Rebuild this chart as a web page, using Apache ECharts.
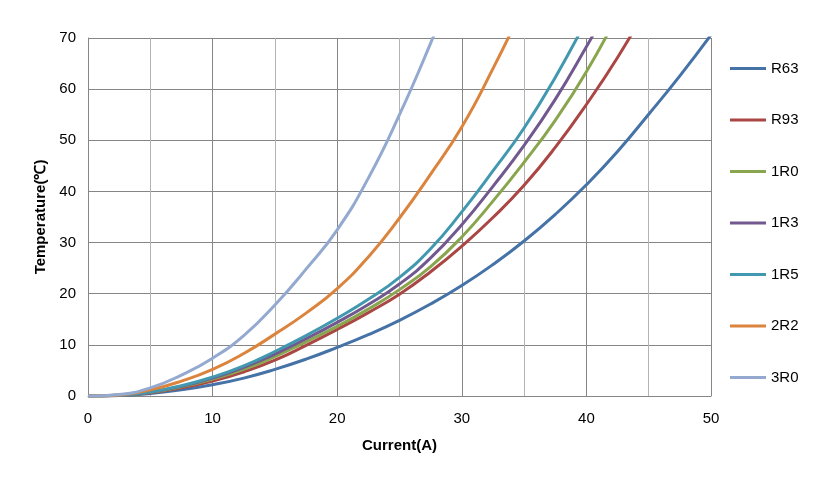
<!DOCTYPE html>
<html>
<head>
<meta charset="utf-8">
<script src="https://cdn.jsdelivr.net/npm/echarts@6/dist/echarts.min.js"></script>
<style>
  html, body { margin: 0; padding: 0; background: #fff; }
  #chart { width: 833px; height: 477px; }
</style>
</head>
<body>
<div id="chart"></div>
<script>
const seriesNames = ['R63', 'R93', '1R0', '1R3', '1R5', '2R2', '3R0'];
const seriesColors = ['#4572A7', '#AA4643', '#89A54E', '#71588F', '#4198AF', '#DB843D', '#93A9CF'];

// current (A) samples, temperature (℃) at each current
// (each list stops just past the top of the plot, the axis clips the rest)
const currents = [0, 2.5, 5, 7.5, 10, 12.5, 15, 17.5, 20, 22.5, 25, 27.5, 30, 32.5, 35, 37.5, 40, 42.5, 45, 47.5, 50];

const tR63 = [0, 0.1, 0.5, 1.2, 2.2, 3.5, 5.2, 7.2, 9.5, 12.0, 14.8, 18.0, 21.6, 25.7, 30.3, 35.5, 41.3, 47.8, 55.1, 62.6, 70.6];
const tR93 = [0, 0.12, 0.65, 1.6, 2.9, 4.7, 7.0, 9.9, 13.0, 16.3, 19.9, 24.3, 29.3, 34.9, 41.2, 48.6, 57.0, 66.2, 76.5];
const t1R0 = [0, 0.13, 0.72, 1.8, 3.3, 5.2, 7.7, 10.6, 13.6, 17.0, 20.8, 25.3, 31.1, 38.1, 45.7, 53.9, 63.4, 74.5];
const t1R3 = [0, 0.14, 0.76, 1.9, 3.5, 5.6, 8.2, 11.2, 14.4, 17.9, 21.9, 27.0, 33.5, 41.0, 49.0, 58.0, 68.3, 79.0];
const t1R5 = [0, 0.15, 0.8, 2.0, 3.7, 5.9, 8.7, 11.8, 15.2, 18.9, 23.2, 28.8, 36.0, 44.0, 52.4, 62.3, 73.5];
const t2R2 = [0, 0.2, 1.2, 2.9, 5.2, 8.3, 12.1, 16.2, 21.0, 27.2, 34.8, 43.4, 52.6, 64.0, 76.5];
const t3R0 = [0, 0.3, 1.6, 4.1, 7.4, 11.8, 17.8, 24.8, 32.5, 42.6, 55.0, 69.0, 84.0];

const temps = [tR63, tR93, t1R0, t1R3, t1R5, t2R2, t3R0];

const font = '"Liberation Sans", Arial, sans-serif';

const chart = echarts.init(document.getElementById('chart'));

const option = {
  backgroundColor: '#fff',
  animation: false,
  grid: {
    left: 88,
    right: 122,
    top: 38,
    bottom: 81
  },
  legend: {
    orient: 'vertical',
    left: 730,
    top: 61,
    padding: 0,
    icon: 'rect',
    itemWidth: 36,
    itemHeight: 3,
    itemGap: 36.5,
    data: seriesNames,
    textStyle: {
      fontFamily: font,
      fontSize: 15,
      lineHeight: 14,
      color: '#000'
    }
  },
  xAxis: {
    type: 'value',
    min: 0,
    max: 50,
    interval: 10,
    name: 'Current(A)',
    nameLocation: 'middle',
    nameGap: 42,
    nameTextStyle: {
      fontFamily: font,
      fontSize: 15,
      fontWeight: 'bold',
      color: '#000'
    },
    axisLine: { show: true, lineStyle: { color: '#868686', width: 1 } },
    axisTick: { show: false },
    axisLabel: {
      fontFamily: font,
      fontSize: 15,
      color: '#000',
      margin: 15
    },
    splitLine: { show: true, lineStyle: { color: '#868686', width: 1 } },
    minorTick: { show: false, splitNumber: 2 },
    minorSplitLine: { show: true, lineStyle: { color: '#b4b4b4', width: 1 } }
  },
  yAxis: {
    type: 'value',
    min: 0,
    max: 70,
    interval: 10,
    name: 'Temperature(℃)',
    nameLocation: 'middle',
    nameGap: 38,
    nameTextStyle: {
      fontFamily: font,
      fontSize: 15,
      fontWeight: 'bold',
      color: '#000'
    },
    axisLine: { show: true, lineStyle: { color: '#868686', width: 1 } },
    axisTick: { show: false },
    axisLabel: {
      fontFamily: font,
      fontSize: 15,
      color: '#000',
      margin: 12
    },
    splitLine: { show: true, lineStyle: { color: '#868686', width: 1 } }
  },
  series: seriesNames.map((name, i) => ({
    name: name,
    type: 'line',
    smooth: 0.5,
    symbol: 'none',
    clip: true,
    color: seriesColors[i],
    lineStyle: { width: 3, color: seriesColors[i] },
    data: temps[i].map((t, j) => [currents[j], t])
  }))
};

chart.setOption(option);
</script>
</body>
</html>
